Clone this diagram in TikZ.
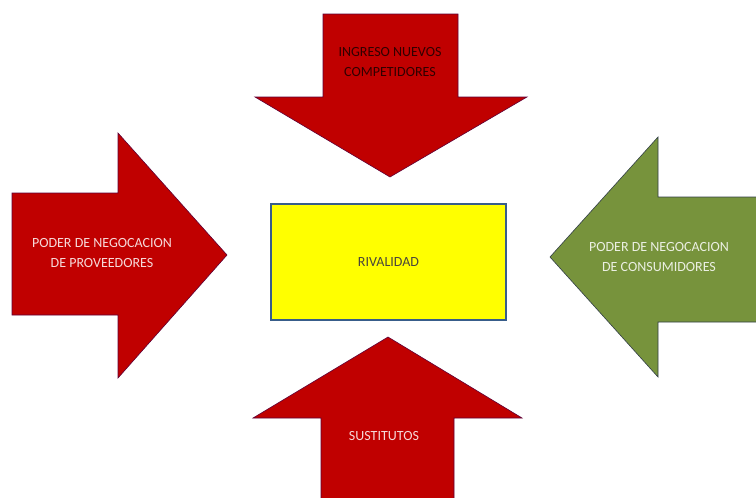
\documentclass[tikz,border=0pt]{standalone}
\usepackage{fontspec}
\setmainfont{Carlito}
\usepackage{tikz}
\usetikzlibrary{positioning}
\definecolor{rojo}{HTML}{C00000}
\definecolor{verde}{HTML}{77933C}
\definecolor{borde}{HTML}{385D8A}
\definecolor{amarillo}{HTML}{FFFF00}
\tikzset{
  flecha/.style={fill=rojo,draw=rojo!70!blue!70!black,line width=0.6pt,line join=miter},
  texto/.style={align=center,font=\fontsize{14}{19.5}\selectfont,inner sep=0pt},
}
\begin{document}
\begin{tikzpicture}[x=1pt,y=-1pt]
  \useasboundingbox (0,0) rectangle (756,498);
  % flechas
  \draw[flecha] (323,14)--(458,14)--(458,97)--(527,97)--(390,177)--(255,97)--(323,97)--cycle; %arriba
  \draw[flecha] (12,193)--(118,193)--(118,133)--(227,255)--(118,378)--(118,315)--(12,315)--cycle; %izquierda
  \draw[flecha,fill=verde,draw=verde!70!blue!60!black] (760,197)--(658,197)--(658,137)--(550,257)--(658,377)--(658,322)--(760,322)--cycle; %derecha
  \draw[flecha] (321,502)--(321,418)--(253,418)--(388,337)--(522,418)--(454,418)--(454,502)--cycle; %abajo
  % centro
  \node[draw=borde,line width=2pt,fill=amarillo,minimum width=235pt,minimum height=116pt,
    texto,text=black!70!yellow!60!black] (rivalidad) at (388.5,262) {RIVALIDAD};
  % textos
  \node[texto,text=black!75!rojo] (competidores) at (390,62) {INGRESO NUEVOS\\COMPETIDORES};
  \node[texto,text=rojo!15!white] (proveedores) at (102,253) {PODER DE NEGOCACION\\DE PROVEEDORES};
  \node[texto,text=verde!15!white] (consumidores) at (659,257) {PODER DE NEGOCACION\\DE CONSUMIDORES};
  \node[texto,text=rojo!15!white] (sustitutos) at (384,436) {SUSTITUTOS};
\end{tikzpicture}
\end{document}
